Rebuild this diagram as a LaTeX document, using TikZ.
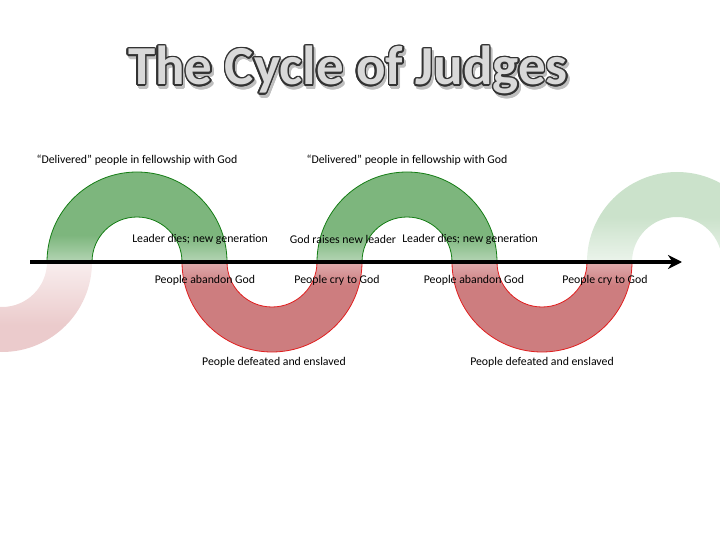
\documentclass[tikz,border=0pt]{standalone}
\usepackage{fontspec}
\setmainfont{Carlito}
\usepackage{contour}
\usetikzlibrary{arrows.meta}
\definecolor{gfill}{RGB}{125,182,125}
\definecolor{gline}{RGB}{20,125,20}
\definecolor{rfill}{RGB}{205,125,127}
\definecolor{rline}{RGB}{225,30,30}
\pgfdeclareverticalshading{greenfade}{100bp}{color(0bp)=(white); color(8bp)=(white!90!gfill); color(40bp)=(gfill); color(100bp)=(gfill)}
\pgfdeclareverticalshading{redfade}{100bp}{color(0bp)=(rfill); color(62bp)=(rfill); color(94bp)=(white!90!rfill); color(100bp)=(white)}
\pgfdeclareverticalshading{greenpale}{100bp}{color(0bp)=(white); color(10bp)=(white); color(50bp)=(gfill!40); color(100bp)=(gfill!40)}
\pgfdeclareverticalshading{redpale}{100bp}{color(0bp)=(rfill!40); color(40bp)=(rfill!40); color(92bp)=(white); color(100bp)=(white)}
\tikzstyle{label} = [font=\fontsize{11.8}{14}\selectfont, text centered, inner sep=1pt]
\tikzstyle{upband} = [shading=greenfade]
\tikzstyle{downband} = [shading=redfade]
\tikzstyle{upline} = [draw=gline, line width=0.8pt]
\tikzstyle{downline} = [draw=rline, line width=0.8pt]
\tikzstyle{timeline} = [line width=3.5pt, -{Stealth[length=14pt,width=14pt]}]
\contournumber{16}
\contourlength{1.5pt}
\newcommand{\titletext}{\fontsize{55}{60}\selectfont\bfseries The Cycle of Judges}
\begin{document}
\begin{tikzpicture}[x=1pt,y=-1pt]
        \useasboundingbox (0,0) rectangle (720,540);
        \begin{scope}
        \clip (0,0) rectangle (720,540);
        % pale ends
        \shade [shading=redpale] (-88,262) arc (180:0:90) -- (47,262) arc (0:180:45) -- cycle;
        \shade [shading=greenpale] (587,262) arc (180:360:90) -- (722,262) arc (0:-180:45) -- cycle;
        \end{scope}
        % green arches and red troughs
        \foreach \cx in {137,407} {
            \shade [upband] (\cx-90,262) arc (180:360:90) -- (\cx+45,262) arc (0:-180:45) -- cycle;
            \draw [upline] (\cx-90,262) arc (180:360:90) (\cx+45,262) arc (0:-180:45);
        }
        \foreach \cx in {272,542} {
            \shade [downband] (\cx-90,262) arc (180:0:90) -- (\cx+45,262) arc (0:180:45) -- cycle;
            \draw [downline] (\cx-90,262) arc (180:0:90) (\cx+45,262) arc (0:180:45);
        }
        % title
        \node (shadow) at (350,74) {\textcolor{black!25}{\contour{black!25}{\titletext}}};
        \node (title) at (348,71) {\contour{black!80}{\textcolor{black!15}{\titletext}}};
        % axis
        \coordinate (start) at (30,262);
        \coordinate (end) at (682,262);
        \draw [timeline] (start) -- (end);
        % labels
        \node (deliv1) [label] at (137,160) {“Delivered” people in fellowship with God};
        \node (deliv2) [label] at (407,160) {“Delivered” people in fellowship with God};
        \node (dies1) [label] at (200,239) {Leader dies; new generation};
        \node (raise) [label] at (343,239) {God raises new leader};
        \node (dies2) [label] at (470,239) {Leader dies; new generation};
        \node (aband1) [label] at (205,280) {People abandon God};
        \node (cry1) [label] at (337,280) {People cry to God};
        \node (aband2) [label] at (474,280) {People abandon God};
        \node (cry2) [label] at (605,280) {People cry to God};
        \node (enslav1) [label] at (274,362) {People defeated and enslaved};
        \node (enslav2) [label] at (542,362) {People defeated and enslaved};
    \end{tikzpicture}
\end{document}
